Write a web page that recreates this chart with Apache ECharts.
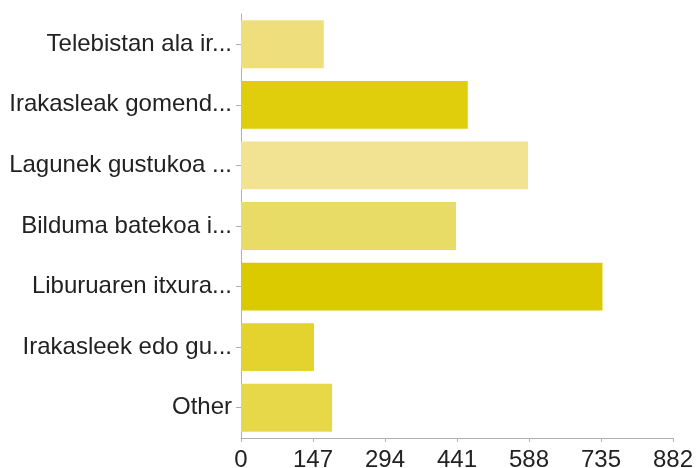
<!DOCTYPE html>
<html>
<head>
<meta charset="utf-8">
<script src="https://cdn.jsdelivr.net/npm/echarts@6/dist/echarts.min.js"></script>
<style>html,body{margin:0;padding:0;background:#fff;}#c{width:696px;height:468px;}</style>
</head>
<body>
<div id="c"></div>
<script>
var categories = ["Telebistan ala ir...", "Irakasleak gomend...", "Lagunek gustukoa ...", "Bilduma batekoa i...", "Liburuaren itxura...", "Irakasleek edo gu...", "Other"];
var values = [169, 463, 586, 439, 738, 149, 186];
var barColors = ["#EEDF7C", "#E0CE0C", "#F1E391", "#E8DB66", "#DCCA00", "#E4D22E", "#E7D84A"];
var xTicks = [0, 147, 294, 441, 588, 735, 882];

var chart = echarts.init(document.getElementById('c'), null, {renderer: 'canvas'});
chart.setOption({
  animation: false,
  grid: {left: 241, right: 23, top: 14, bottom: 30, containLabel: false, outerBoundsMode: 'none'},
  xAxis: {
    type: 'value', min: 0, max: 882, interval: 147,
    axisLine: {show: true, lineStyle: {color: '#b0b0b0', width: 1}},
    axisTick: {show: true, length: 4, lineStyle: {color: '#b0b0b0'}},
    splitLine: {show: false},
    axisLabel: {color: '#222', fontSize: 24, fontFamily: 'Liberation Sans, Arial, sans-serif', margin: 10, hideOverlap: false,
      formatter: function (v) { return xTicks.indexOf(v) >= 0 ? String(v) : ''; }}
  },
  yAxis: {
    type: 'category', data: categories, inverse: true,
    axisLine: {show: true, lineStyle: {color: '#b0b0b0', width: 1}},
    axisTick: {show: true, length: 5, alignWithLabel: true, lineStyle: {color: '#b0b0b0'}},
    axisLabel: {color: '#222', fontSize: 24, fontFamily: 'Liberation Sans, Arial, sans-serif', margin: 9}
  },
  series: [{
    type: 'bar',
    data: values.map(function (v, i) { return {value: v, itemStyle: {color: barColors[i]}}; }),
    barCategoryGap: '21%'
  }]
});
</script>
</body>
</html>
